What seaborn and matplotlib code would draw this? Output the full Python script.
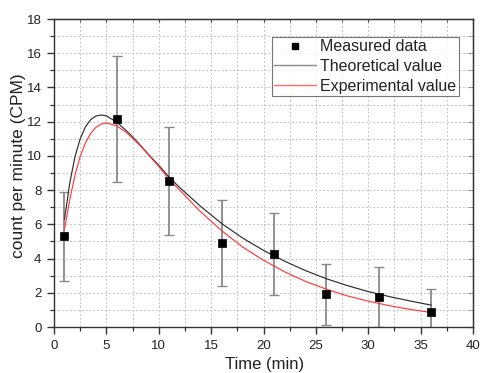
import numpy as np
import pandas as pd
import matplotlib
matplotlib.use("Agg")
import matplotlib.pyplot as plt
import seaborn as sns
from matplotlib.ticker import MultipleLocator
from matplotlib.lines import Line2D

# Measured data
t_meas = [1, 6, 11, 16, 21, 26, 31, 36]
cpm_meas = [5.3, 12.15, 8.55, 4.9, 4.25, 1.9, 1.75, 0.85]
cpm_err = [2.6, 3.7, 3.15, 2.5, 2.4, 1.8, 1.75, 1.35]

# Curves
t_curve = [1, 1.5, 2, 2.5, 3, 3.5, 4, 4.5, 5, 6, 7, 8, 9, 10, 11, 12, 14, 16,
           18, 20, 22, 24, 26, 28, 30, 32, 34, 36]
theo = [6.3, 8.4, 9.95, 11.0, 11.7, 12.12, 12.33, 12.39, 12.34, 11.97, 11.42,
        10.79, 10.1, 9.45, 8.75, 8.15, 7.05, 6.05, 5.2, 4.48, 3.85, 3.3, 2.82,
        2.42, 2.07, 1.78, 1.52, 1.28]
expe = [5.7, 7.43, 8.87, 9.97, 10.76, 11.31, 11.67, 11.86, 11.93, 11.75, 11.32,
        10.74, 10.08, 9.38, 8.62, 8.0, 6.73, 5.63, 4.68, 3.9, 3.23, 2.67, 2.21,
        1.82, 1.51, 1.25, 1.03, 0.85]

plt.rcParams['font.family'] = ['Liberation Sans', 'DejaVu Sans']

fig = plt.figure(figsize=(4.81, 3.73), dpi=100)
ax = fig.add_axes([0.1123, 0.1233, 0.8711, 0.8257])

curves = pd.DataFrame({
    "t": t_curve * 2,
    "cpm": theo + expe,
    "kind": ["Theoretical value"] * len(t_curve) + ["Experimental value"] * len(t_curve),
})
meas = pd.DataFrame({"t": t_meas, "cpm": cpm_meas, "err": cpm_err})

ax.errorbar(meas["t"], meas["cpm"], yerr=meas["err"], fmt="none",
            ecolor="#8a8a8a", elinewidth=1.3, capsize=3.5, capthick=1.0, zorder=2)
sns.lineplot(data=curves, x="t", y="cpm", hue="kind",
             palette={"Theoretical value": "#2e2e2e", "Experimental value": "#ff3b3b"},
             linewidth=0.85, ax=ax, legend=False, zorder=3, sort=False,
             estimator=None)
sns.scatterplot(data=meas, x="t", y="cpm", marker="s", color="black", s=30,
                edgecolor="black", linewidth=0.5, ax=ax, zorder=4, legend=False)

ax.set_xlim(0, 40)
ax.set_ylim(0, 18)
ax.xaxis.set_major_locator(MultipleLocator(5))
ax.xaxis.set_minor_locator(MultipleLocator(2.5))
ax.yaxis.set_major_locator(MultipleLocator(2))
ax.yaxis.set_minor_locator(MultipleLocator(1))
ax.grid(True, which="both", linestyle=(0, (2, 2)), color="#c4c4c4", linewidth=0.7)
ax.set_axisbelow(True)

ax.tick_params(which="both", direction="out", colors="#333333", labelsize=9.5,
               labelcolor="#222222")
ax.tick_params(which="major", length=5, width=1.0, pad=4)
ax.tick_params(which="minor", length=3, width=0.9)
ax2 = ax.secondary_xaxis("top")
ax2.xaxis.set_major_locator(MultipleLocator(5))
ax2.xaxis.set_minor_locator(MultipleLocator(2.5))
ax2.tick_params(which="both", direction="in", labeltop=False, length=3, colors="#333333")
ax3 = ax.secondary_yaxis("right")
ax3.yaxis.set_major_locator(MultipleLocator(2))
ax3.yaxis.set_minor_locator(MultipleLocator(1))
ax3.tick_params(which="both", direction="in", labelright=False, length=3, colors="#333333")

for s in ax.spines.values():
    s.set_color("#333333")
    s.set_linewidth(1.0)

ax.set_ylabel("")
ax.set_xlabel("")
fig.text(19 / 481, 1 - 166 / 373, "count per minute (CPM)", ha="center",
         va="center", rotation=90, fontsize=12.5, color="#222222")
fig.text(265 / 481, 0.5 / 373, "Time (min)", ha="center",
         va="bottom", fontsize=12, color="#222222")

handles = [
    Line2D([], [], marker="s", color="black", linestyle="none", markersize=4),
    Line2D([], [], color="#8a8a8a", linewidth=1.0),
    Line2D([], [], color="#ff6b6b", linewidth=1.0),
]
leg = ax.legend(handles, ["Measured data", "Theoretical value", "Experimental value"],
                loc="upper left", bbox_to_anchor=((271.7 - 54) / 419.0, (327 - 36.7) / 308.0),
                fontsize=11.5, frameon=True, fancybox=False, handlelength=2.6,
                handletextpad=0.3, borderpad=0.15, labelspacing=0.3,
                borderaxespad=0)
leg.get_frame().set_edgecolor("#555555")
leg.get_frame().set_linewidth(0.8)
for txt in leg.get_texts():
    txt.set_color("#222222")

fig.savefig("out.png", dpi=100)
